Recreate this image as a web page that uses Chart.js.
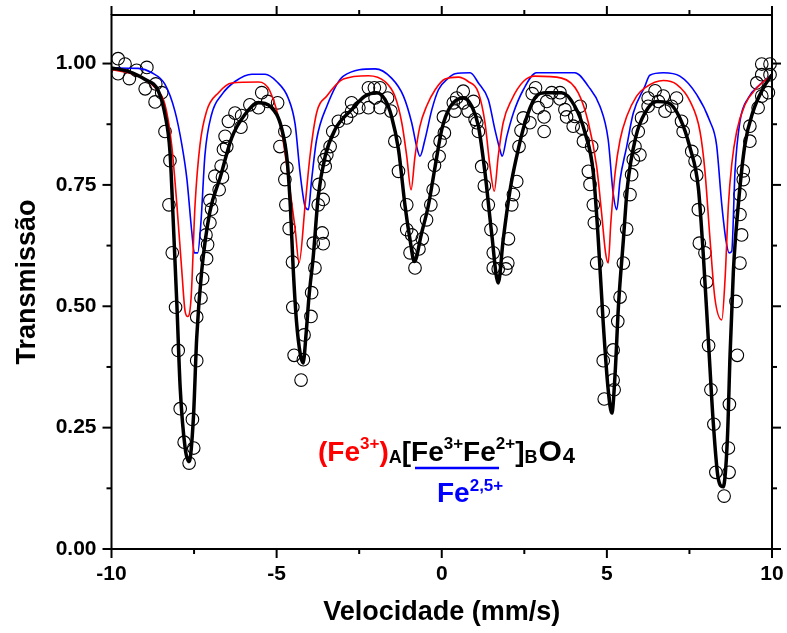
<!DOCTYPE html>
<html>
<head>
<meta charset="utf-8">
<title>Transmissão x Velocidade</title>
<script src="https://cdn.jsdelivr.net/npm/chart.js@4.4.1/dist/chart.umd.min.js"></script>
<style>
  html, body { margin: 0; padding: 0; background: #fff; }
  #wrap { position: relative; width: 787px; height: 633px; }
</style>
</head>
<body>
<div id="wrap"><canvas id="chart" width="787" height="633"></canvas></div>
<script>
// measured spectrum: [velocity (mm/s), transmission]
const measured = [
  [-9.80, 1.010], [-9.80, 0.979], [-9.59, 0.999], [-9.46, 0.969], [-9.24, 0.986], [-8.98, 0.948],
  [-8.93, 0.992], [-8.68, 0.921], [-8.66, 0.958], [-8.48, 0.940], [-8.38, 0.860], [-8.26, 0.709],
  [-8.23, 0.800], [-8.16, 0.610], [-8.06, 0.498], [-7.98, 0.409], [-7.92, 0.289], [-7.80, 0.220],
  [-7.65, 0.177], [-7.55, 0.267], [-7.51, 0.208], [-7.42, 0.388], [-7.42, 0.478], [-7.29, 0.517],
  [-7.24, 0.557], [-7.14, 0.647], [-7.12, 0.598], [-7.09, 0.627], [-7.02, 0.672], [-7.02, 0.718],
  [-6.97, 0.700], [-6.87, 0.768], [-6.74, 0.740], [-6.68, 0.789], [-6.64, 0.766], [-6.61, 0.823],
  [-6.56, 0.850], [-6.51, 0.829], [-6.46, 0.881], [-6.26, 0.898], [-6.08, 0.869], [-6.06, 0.893],
  [-5.81, 0.915], [-5.55, 0.909], [-5.45, 0.940], [-5.27, 0.922], [-4.97, 0.919], [-4.90, 0.829],
  [-4.75, 0.860], [-4.75, 0.761], [-4.72, 0.709], [-4.69, 0.785], [-4.62, 0.660], [-4.52, 0.591],
  [-4.51, 0.498], [-4.47, 0.399], [-4.26, 0.348], [-4.19, 0.390], [-4.17, 0.441], [-3.96, 0.479],
  [-3.94, 0.528], [-3.89, 0.630], [-3.84, 0.579], [-3.74, 0.709], [-3.72, 0.751], [-3.62, 0.651],
  [-3.59, 0.629], [-3.59, 0.720], [-3.56, 0.802], [-3.53, 0.788], [-3.48, 0.812], [-3.38, 0.829],
  [-3.30, 0.860], [-3.13, 0.881], [-2.88, 0.888], [-2.73, 0.919], [-2.73, 0.902], [-2.51, 0.909],
  [-2.22, 0.909], [-2.22, 0.950], [-2.04, 0.950], [-2.02, 0.929], [-1.87, 0.950], [-1.87, 0.909],
  [-1.64, 0.929], [-1.54, 0.902], [-1.42, 0.840], [-1.31, 0.778], [-1.06, 0.709], [-1.06, 0.658],
  [-0.96, 0.610], [-0.91, 0.647], [-0.81, 0.579], [-0.69, 0.618], [-0.59, 0.639], [-0.46, 0.678],
  [-0.33, 0.709], [-0.26, 0.740], [-0.22, 0.790], [-0.08, 0.809], [-0.05, 0.840], [0.05, 0.890],
  [0.08, 0.857], [0.35, 0.919], [0.40, 0.902], [0.45, 0.929], [0.65, 0.943], [0.65, 0.919],
  [0.80, 0.902], [0.96, 0.922], [1.01, 0.885], [1.06, 0.878], [1.11, 0.860], [1.21, 0.788],
  [1.29, 0.748], [1.41, 0.709], [1.49, 0.658], [1.56, 0.610], [1.56, 0.579], [1.71, 0.577],
  [1.94, 0.577], [2.00, 0.589], [2.02, 0.639], [2.12, 0.709], [2.17, 0.730], [2.27, 0.757],
  [2.34, 0.829], [2.40, 0.862], [2.47, 0.888], [2.67, 0.878], [2.74, 0.938], [2.84, 0.950],
  [2.92, 0.909], [3.10, 0.890], [3.10, 0.860], [3.18, 0.922], [3.33, 0.940], [3.58, 0.940],
  [3.58, 0.927], [3.73, 0.905], [3.78, 0.890], [3.98, 0.871], [4.03, 0.891], [4.19, 0.912],
  [4.24, 0.867], [4.29, 0.840], [4.44, 0.778], [4.49, 0.751], [4.54, 0.829], [4.59, 0.709],
  [4.62, 0.672], [4.69, 0.589], [4.89, 0.489], [4.89, 0.388], [4.92, 0.309], [5.19, 0.348],
  [5.22, 0.328], [5.19, 0.410], [5.33, 0.469], [5.40, 0.519], [5.50, 0.589], [5.60, 0.659],
  [5.70, 0.730], [5.75, 0.771], [5.80, 0.802], [5.85, 0.829], [5.95, 0.860], [6.00, 0.812],
  [6.05, 0.888], [6.25, 0.912], [6.25, 0.929], [6.46, 0.944], [6.56, 0.922], [6.71, 0.933],
  [6.76, 0.902], [6.96, 0.912], [7.11, 0.929], [7.26, 0.881], [7.31, 0.860], [7.57, 0.819],
  [7.67, 0.799], [7.72, 0.770], [7.77, 0.699], [7.80, 0.630], [7.97, 0.610], [8.02, 0.550],
  [8.08, 0.419], [8.15, 0.328], [8.24, 0.257], [8.30, 0.158], [8.55, 0.109], [8.68, 0.208],
  [8.70, 0.158], [8.71, 0.298], [8.91, 0.510], [8.95, 0.399], [9.03, 0.589], [9.03, 0.689],
  [9.03, 0.730], [9.08, 0.647], [9.13, 0.761], [9.13, 0.779], [9.33, 0.840], [9.33, 0.871],
  [9.54, 0.960], [9.58, 0.909], [9.69, 0.933], [9.69, 0.977], [9.69, 0.999], [9.89, 0.940],
  [9.94, 0.999], [9.94, 0.977],
];

// total fit (black)
const fitTotal = [
  [-10.00, 0.991], [-9.50, 0.984], [-8.98, 0.967], [-8.58, 0.943], [-8.38, 0.895], [-8.23, 0.819],
  [-8.13, 0.675], [-8.02, 0.503], [-7.92, 0.332], [-7.77, 0.208], [-7.65, 0.180], [-7.52, 0.270],
  [-7.42, 0.435], [-7.27, 0.572], [-7.02, 0.695], [-6.71, 0.765], [-6.36, 0.847], [-5.96, 0.895],
  [-5.55, 0.919], [-5.15, 0.909], [-4.85, 0.867], [-4.68, 0.800], [-4.58, 0.700], [-4.50, 0.580],
  [-4.40, 0.470], [-4.28, 0.400], [-4.20, 0.383], [-4.10, 0.450], [-4.02, 0.520], [-3.89, 0.603],
  [-3.74, 0.726], [-3.53, 0.809], [-3.23, 0.864], [-2.73, 0.905], [-2.32, 0.933], [-1.97, 0.940],
  [-1.72, 0.926], [-1.52, 0.891], [-1.31, 0.823], [-1.11, 0.706], [-0.96, 0.637], [-0.83, 0.592],
  [-0.61, 0.651], [-0.41, 0.706], [-0.20, 0.788], [0.00, 0.864], [0.25, 0.910], [0.65, 0.929],
  [0.91, 0.912], [1.11, 0.871], [1.31, 0.775], [1.51, 0.651], [1.71, 0.548], [1.86, 0.637],
  [2.07, 0.740], [2.27, 0.809], [2.52, 0.878], [2.82, 0.929], [3.13, 0.940], [3.63, 0.940],
  [4.03, 0.912], [4.34, 0.857], [4.59, 0.775], [4.74, 0.637], [4.89, 0.465], [5.04, 0.328],
  [5.15, 0.280], [5.25, 0.362], [5.35, 0.500], [5.50, 0.637], [5.62, 0.745], [5.88, 0.850],
  [6.15, 0.898], [6.51, 0.922], [6.86, 0.919], [7.21, 0.888], [7.52, 0.826], [7.77, 0.744],
  [7.92, 0.606], [8.07, 0.434], [8.22, 0.262], [8.37, 0.146], [8.52, 0.128], [8.65, 0.228],
  [8.73, 0.400], [8.83, 0.572], [8.98, 0.709], [9.18, 0.833], [9.43, 0.902], [9.74, 0.950],
  [10.00, 0.977],
];

// sextet of site A, (Fe3+) (red)
const fitSiteA = [
  [-10.00, 0.988], [-9.19, 0.974], [-8.68, 0.950], [-8.38, 0.915], [-8.18, 0.833], [-8.02, 0.709],
  [-7.87, 0.572], [-7.77, 0.489], [-7.69, 0.479], [-7.59, 0.517], [-7.47, 0.709], [-7.32, 0.833],
  [-7.12, 0.902], [-6.76, 0.940], [-6.36, 0.960], [-5.55, 0.962], [-5.20, 0.943], [-4.85, 0.860],
  [-4.59, 0.737], [-4.44, 0.660], [-4.32, 0.590], [-4.14, 0.706], [-3.99, 0.809], [-3.79, 0.898],
  [-3.48, 0.933], [-2.98, 0.968], [-2.22, 0.975], [-1.72, 0.963], [-1.42, 0.933], [-1.21, 0.878],
  [-1.06, 0.809], [-0.93, 0.740], [-0.81, 0.809], [-0.66, 0.871], [-0.46, 0.912], [-0.20, 0.946],
  [0.10, 0.968], [0.50, 0.972], [0.80, 0.963], [1.11, 0.940], [1.31, 0.878], [1.46, 0.788],
  [1.59, 0.737], [1.71, 0.809], [1.86, 0.878], [2.12, 0.926], [2.47, 0.963], [2.82, 0.974],
  [3.63, 0.970], [4.13, 0.940], [4.44, 0.878], [4.69, 0.788], [4.84, 0.692], [4.96, 0.610],
  [5.04, 0.589], [5.12, 0.672], [5.25, 0.775], [5.40, 0.843], [5.60, 0.891], [5.90, 0.933],
  [6.15, 0.950], [6.71, 0.965], [7.11, 0.957], [7.52, 0.922], [7.82, 0.860], [7.97, 0.778],
  [8.12, 0.641], [8.27, 0.517], [8.48, 0.472], [8.58, 0.558], [8.68, 0.709], [8.78, 0.792],
  [8.93, 0.860], [9.18, 0.915], [9.54, 0.950], [10.00, 0.977],
];

// sextet of site B, Fe2,5+ (blue)
const fitSiteB = [
  [-10.00, 0.991], [-9.19, 0.990], [-8.78, 0.981], [-8.38, 0.957], [-8.08, 0.902], [-7.87, 0.833],
  [-7.72, 0.764], [-7.57, 0.654], [-7.49, 0.610], [-7.39, 0.610], [-7.29, 0.675], [-7.17, 0.812],
  [-6.97, 0.895], [-6.66, 0.936], [-6.26, 0.963], [-5.75, 0.978], [-5.35, 0.978], [-5.00, 0.963],
  [-4.65, 0.929], [-4.44, 0.875], [-4.29, 0.775], [-4.14, 0.706], [-4.04, 0.699], [-3.94, 0.761],
  [-3.79, 0.843], [-3.48, 0.912], [-2.98, 0.974], [-2.02, 0.989], [-1.52, 0.970], [-1.16, 0.933],
  [-0.91, 0.878], [-0.76, 0.829], [-0.66, 0.809], [-0.51, 0.843], [-0.30, 0.905], [-0.10, 0.946],
  [0.20, 0.970], [0.40, 0.979], [0.86, 0.981], [1.11, 0.960], [1.41, 0.926], [1.61, 0.864],
  [1.76, 0.823], [1.83, 0.809], [1.97, 0.850], [2.17, 0.898], [2.47, 0.946], [2.87, 0.981],
  [4.03, 0.981], [4.44, 0.953], [4.79, 0.912], [5.04, 0.843], [5.19, 0.733], [5.30, 0.699],
  [5.40, 0.761], [5.60, 0.829], [5.80, 0.898], [6.15, 0.953], [6.30, 0.976], [6.71, 0.981],
  [7.21, 0.974], [7.72, 0.936], [8.12, 0.881], [8.32, 0.833], [8.48, 0.709], [8.61, 0.634],
  [8.70, 0.610], [8.78, 0.613], [8.88, 0.778], [9.03, 0.881], [9.28, 0.929], [9.64, 0.957],
  [10.00, 0.977],
];

const xMajor = [-10, -5, 0, 5, 10];
const xMinor = [-7.5, -2.5, 2.5, 7.5];
const yMajor = [0, 0.25, 0.5, 0.75, 1.0];
const yMinor = [0.125, 0.375, 0.625, 0.875];

(function () {
  'use strict';

  const FONT = "'Liberation Sans', Arial, Helvetica, sans-serif";
  const RED = '#ff0000';
  const BLUE = '#0000ff';

  const toXY = (arr) => arr.map(([v, t]) => ({ x: v, y: t }));

  function line(ctx, x1, y1, x2, y2) {
    ctx.beginPath();
    ctx.moveTo(x1, y1);
    ctx.lineTo(x2, y2);
    ctx.stroke();
  }

  // draws a row of text runs (normal / sup / sub), returns the end x
  function drawRuns(ctx, x, base, runs) {
    runs.forEach((r) => {
      ctx.font = `bold ${r.size}px ${FONT}`;
      ctx.fillStyle = r.color;
      ctx.fillText(r.text, x, base + (r.dy || 0));
      x += ctx.measureText(r.text).width + (r.gap || 0);
    });
    return x;
  }

  // no extra room for edge labels: the plot box is fixed
  function noEdgePadding(s) {
    s.paddingTop = 0;
    s.paddingBottom = 0;
    s.paddingLeft = 0;
    s.paddingRight = 0;
  }

  const framePlugin = {
    id: 'frame',
    afterDraw(chart) {
      const { ctx, chartArea: a, scales: { x, y } } = chart;
      ctx.save();
      ctx.strokeStyle = '#000';
      ctx.lineWidth = 2;
      ctx.strokeRect(a.left, a.top, a.right - a.left, a.bottom - a.top);

      const xt = (vals, len) => vals.forEach((v) => {
        const px = x.getPixelForValue(v);
        line(ctx, px, a.bottom, px, a.bottom + len);
        line(ctx, px, a.top, px, a.top - len);
      });
      const yt = (vals, len) => vals.forEach((v) => {
        const py = y.getPixelForValue(v);
        line(ctx, a.left, py, a.left - len, py);
        line(ctx, a.right, py, a.right + len, py);
      });
      xt(xMajor, 9);
      xt(xMinor, 5);
      yt(yMajor, 9);
      yt(yMinor, 5);

      // formula label
      ctx.textBaseline = 'alphabetic';
      ctx.textAlign = 'left';
      const base = 461;
      let cx = drawRuns(ctx, 318, base, [
        { text: '(Fe', size: 28, color: RED },
        { text: '3+', size: 17, color: RED, dy: -12 },
        { text: ')', size: 28, color: RED },
        { text: 'A', size: 18, color: '#000', dy: 2 },
        { text: '[Fe', size: 28, color: '#000' },
        { text: '3+', size: 17, color: '#000', dy: -12 },
        { text: 'Fe', size: 28, color: '#000' },
        { text: '2+', size: 17, color: '#000', dy: -12 },
        { text: ']', size: 28, color: '#000' },
        { text: 'B', size: 18, color: '#000', dy: 2, gap: 1 },
        { text: 'O', size: 30, color: '#000', gap: 1 },
      ]);
      drawRuns(ctx, cx, base, [{ text: '4', size: 22, color: '#000', dy: 2 }]);

      ctx.strokeStyle = BLUE;
      ctx.lineWidth = 2.5;
      line(ctx, 415, 468, 499, 468);
      drawRuns(ctx, 437, 502, [
        { text: 'Fe', size: 28, color: BLUE },
        { text: '2,5+', size: 17, color: BLUE, dy: -11 },
      ]);
      ctx.restore();
    },
  };

  const tickFont = { family: FONT, size: 21, weight: 'bold' };
  const titleFont = { family: FONT, size: 27, weight: 'bold' };

  new Chart(document.getElementById('chart').getContext('2d'), {
    type: 'scatter',
    data: {
      datasets: [
        {
          label: 'Ajuste total',
          data: toXY(fitTotal),
          showLine: true,
          borderColor: '#000',
          borderWidth: 3.5,
          pointRadius: 0,
          cubicInterpolationMode: 'monotone',
          order: 0,
        },
        {
          label: 'Sítio A',
          data: toXY(fitSiteA),
          showLine: true,
          borderColor: RED,
          borderWidth: 1.6,
          pointRadius: 0,
          cubicInterpolationMode: 'monotone',
          order: 1,
        },
        {
          label: 'Sítio B',
          data: toXY(fitSiteB),
          showLine: true,
          borderColor: BLUE,
          borderWidth: 1.6,
          pointRadius: 0,
          cubicInterpolationMode: 'monotone',
          order: 2,
        },
        {
          label: 'Experimental',
          data: toXY(measured),
          showLine: false,
          pointStyle: 'circle',
          pointRadius: 6.3,
          borderWidth: 1.1,
          borderColor: '#000',
          backgroundColor: 'rgba(0,0,0,0)',
          clip: false,
          order: 3,
        },
      ],
    },
    options: {
      responsive: false,
      animation: false,
      devicePixelRatio: 1,
      layout: { padding: { top: 15, right: 15, left: 0, bottom: 0 } },
      plugins: {
        legend: { display: false },
        tooltip: { enabled: false },
      },
      scales: {
        x: {
          type: 'linear',
          min: -10,
          max: 10,
          grid: { display: false, drawTicks: false },
          border: { display: false },
          afterBuildTicks: (s) => { s.ticks = xMajor.map((v) => ({ value: v })); },
          afterFit: (s) => { s.height = 84; noEdgePadding(s); },
          ticks: {
            color: '#000',
            font: tickFont,
            padding: 13,
            maxRotation: 0,
            autoSkip: false,
            callback: (v) => String(v),
          },
          title: {
            display: true,
            text: 'Velocidade (mm/s)',
            color: '#000',
            font: titleFont,
            padding: { top: 0, bottom: 4 },
          },
        },
        y: {
          type: 'linear',
          min: 0,
          max: 1.1,
          grid: { display: false, drawTicks: false },
          border: { display: false },
          afterBuildTicks: (s) => { s.ticks = yMajor.map((v) => ({ value: v })); },
          afterFit: (s) => { s.width = 111.5; noEdgePadding(s); },
          ticks: {
            color: '#000',
            font: tickFont,
            padding: 15,
            callback: (v) => Number(v).toFixed(2),
          },
          title: {
            display: true,
            text: 'Transmissão',
            color: '#000',
            font: titleFont,
            padding: { top: 11, bottom: 0 },
          },
        },
      },
    },
    plugins: [framePlugin],
  });
})();
</script>
</body>
</html>
